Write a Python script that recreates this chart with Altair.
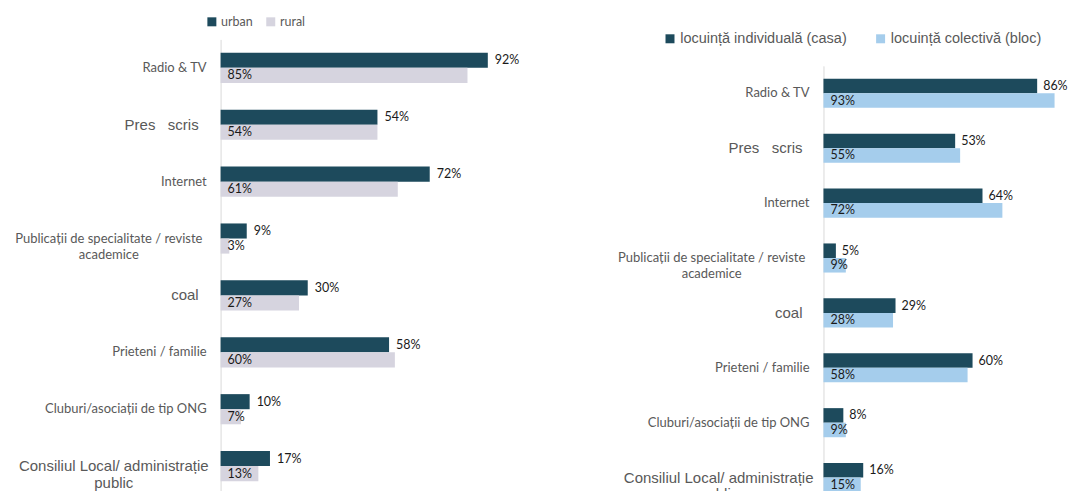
import altair as alt
import pandas as pd

categories = [
    "Radio & TV",
    "Pres\u00a0\u00a0\u00a0scris",
    "Internet",
    "Publicații de specialitate / reviste\nacademice",
    "coal",
    "Prieteni / familie",
    "Cluburi/asociații de tip ONG",
    "Consiliul Local/ administrație\npublic",
]
calibri_single = ["Radio & TV", "Internet", "Prieteni / familie", "Cluburi/asociații de tip ONG"]
arial_single = ["Pres\u00a0\u00a0\u00a0scris", "coal"]
calibri_multi = ["Publicații de specialitate / reviste\nacademice"]
arial_multi = ["Consiliul Local/ administrație\npublic"]

left_series = ["urban", "rural"]
urban = [92, 54, 72, 9, 30, 58, 10, 17]
rural = [85, 54, 61, 3, 27, 60, 7, 13]
left_colors = ["#1D4A5C", "#D6D4DF"]

right_series = ["locuință individuală (casa)", "locuință colectivă (bloc)"]
casa = [86, 53, 64, 5, 29, 60, 8, 16]
bloc = [93, 55, 72, 9, 28, 58, 9, 15]
right_colors = ["#1D4A5C", "#A5CDEC"]

LABEL_FONT = "Lato"
ARIAL = "Liberation Sans"
GRAY = "#595959"


def panel(series, v1, v2, colors, width, height, xmax, yrange, legend_x, legend_y,
          legend_font, legend_size, legend_gap, multi_centers, dx_out, lab_right, arial_right):
    rows = []
    for c, a, b in zip(categories, v1, v2):
        rows.append({"cat": c, "series": series[0], "val": a, "lbl": f"{a}%"})
        rows.append({"cat": c, "series": series[1], "val": b, "lbl": f"{b}%"})
    df = pd.DataFrame(rows)

    if yrange is not None:
        yscale = alt.Scale(domain=categories, paddingInner=0.47, paddingOuter=0.235, range=yrange)
    else:
        yscale = alt.Scale(domain=categories, paddingInner=0.47, paddingOuter=0.235)
    yaxis = alt.Axis(labels=False, ticks=False, title=None, grid=False,
                     domainColor="#D9D9D9", domainWidth=1,
                     minExtent=213, maxExtent=213)
    y = alt.Y("cat:N", sort=categories, scale=yscale, axis=yaxis)
    x = alt.X("val:Q", scale=alt.Scale(domain=[0, xmax], nice=False, zero=True), axis=None)
    yoff = alt.YOffset("series:N", sort=series,
                       scale=alt.Scale(domain=series, paddingInner=0, paddingOuter=0))

    bars = alt.Chart(df).mark_bar().encode(
        y=y, x=x, yOffset=yoff,
        color=alt.Color("series:N",
                        scale=alt.Scale(domain=series, range=colors),
                        legend=alt.Legend(
                            title=None, orient="none", direction="horizontal",
                            legendX=legend_x, legendY=legend_y,
                            symbolType="square", symbolSize=81, symbolStrokeWidth=0,
                            labelFont=legend_font, labelFontSize=legend_size,
                            labelColor=GRAY, labelOffset=3, columnPadding=legend_gap,
                            labelLimit=400, padding=0)),
    )

    outer = alt.Chart(df).transform_filter(
        alt.datum.series == series[0]
    ).mark_text(align="left", baseline="middle", dx=dx_out, font=LABEL_FONT,
                fontSize=12.5, color="#1A1A1A").encode(
        y=y, x=x, yOffset=yoff, text="lbl:N")

    inner = alt.Chart(df).transform_filter(
        alt.datum.series == series[1]
    ).mark_text(align="left", baseline="middle", dx=7, font=LABEL_FONT,
                fontSize=12.5, color="#1A1A1A").encode(
        y=y, x=alt.datum(0), yOffset=yoff, text="lbl:N")

    def lab(items, font, size, align, xpix):
        d = pd.DataFrame({"cat": items})
        return alt.Chart(d).mark_text(
            align=align, baseline="middle", font=font, fontSize=size,
            color=GRAY, lineBreak="\n", lineHeight=16.5).encode(
            y=y, x=alt.value(xpix), text="cat:N")

    labels = [
        lab(calibri_single, LABEL_FONT, 13, "right", lab_right),
        lab(arial_single, ARIAL, 15, "right", arial_right),
        lab(calibri_multi, LABEL_FONT, 13, "center", multi_centers[0]),
        lab(arial_multi, ARIAL, 15, "center", multi_centers[1]),
    ]
    return alt.layer(bars, outer, inner, *labels).properties(width=width, height=height)


left = panel(left_series, urban, rural, left_colors, 291, 456, 100, None,
             -15, -24, LABEL_FONT, 12.5, 11, (-112, -107), 7, -14, -22)
right = panel(right_series, casa, bloc, right_colors, 239, 467, 96, [26.5, 466.5],
              -161, -8, ARIAL, 14.5, 26, (-112, -105), 6, -14, -21)

chart = alt.hconcat(left, right, spacing=313, bounds="flush").resolve_scale(
    color="independent", y="independent", x="independent", yOffset="independent"
).configure_view(stroke=None).properties(
    padding={"left": 0, "top": 7, "right": 0, "bottom": 0}
)

chart.save("out.html", embed_options={"renderer": "svg", "actions": False})
